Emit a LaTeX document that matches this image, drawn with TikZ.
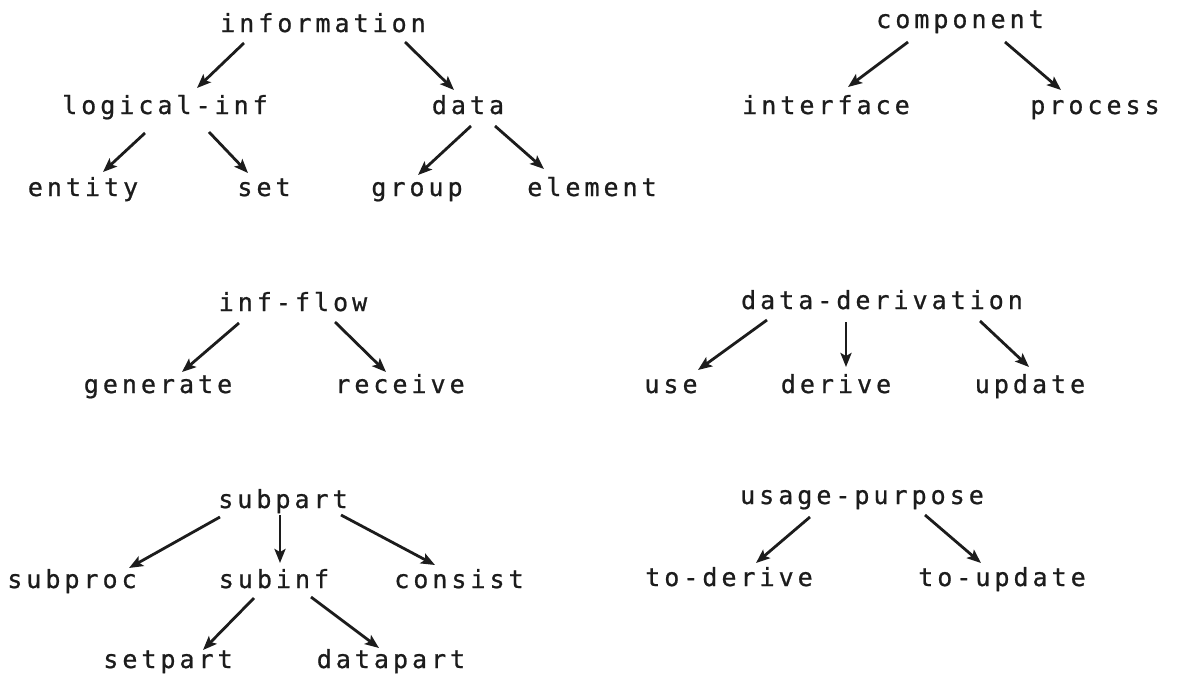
\documentclass[tikz,border=0pt]{standalone}
\usepackage{fontspec}
\usetikzlibrary{arrows.meta}
\newfontfamily\plotfont[LetterSpace=16,FakeBold=0.8]{DejaVu Sans Mono}
\definecolor{ink}{HTML}{1C1C1C}
\begin{document}
\begin{tikzpicture}[x=1pt, y=-1pt,
  term/.style={anchor=base, inner sep=0pt, text=ink,
    font=\plotfont\fontsize{25}{29}\selectfont},
  arr/.style={draw=ink, line width=2.8pt,
    -{Stealth[length=14pt,width=11pt,inset=3pt]}}]
\useasboundingbox[fill=white] (0,0) rectangle (1179,678);

% information hierarchy
\node[term] (info) at (323,32) {information};
\node[term] (lin)  at (165,114) {logical-inf};
\node[term] (data) at (468,114) {data};
\node[term] (ent)  at (83,196) {entity};
\node[term] (set)  at (264,196) {set};
\node[term] (grp)  at (417,196) {group};
\node[term] (elem) at (592,196) {element};

% component hierarchy
\node[term] (comp) at (960,28) {component};
\node[term] (intf) at (826,114) {interface};
\node[term] (proc) at (1095,114) {process};

% information flow
\node[term] (flow) at (293,311) {inf-flow};
\node[term] (gen)  at (158,393) {generate};
\node[term] (recv) at (400,393) {receive};

% data derivation
\node[term] (deriv) at (882,309) {data-derivation};
\node[term] (use)   at (671,393) {use};
\node[term] (der)   at (836,393) {derive};
\node[term] (upd)   at (1030,393) {update};

% subpart hierarchy
\node[term] (sub)   at (283,508) {subpart};
\node[term] (sproc) at (72,588) {subproc};
\node[term] (sinf)  at (274,588) {subinf};
\node[term] (cons)  at (459,588) {consist};
\node[term] (setp)  at (168,668) {setpart};
\node[term] (datp)  at (391,668) {datapart};

% usage purpose
\node[term] (purp) at (862,504) {usage-purpose};
\node[term] (tod)  at (729,586) {to-derive};
\node[term] (tou)  at (1002,586) {to-update};

% connectors
\draw[arr] ([shift={(-79,11)}]info.base) -- ([shift={(32,-26)}]lin.base);
\draw[arr] ([shift={(82,10)}]info.base) -- ([shift={(-14,-24)}]data.base);
\draw[arr] ([shift={(-52,14)}]comp.base) -- ([shift={(22,-27)}]intf.base);
\draw[arr] ([shift={(45,14)}]comp.base) -- ([shift={(-34,-24)}]proc.base);
\draw[arr] ([shift={(-20,19)}]lin.base) -- ([shift={(20,-24)}]ent.base);
\draw[arr] ([shift={(44,18)}]lin.base) -- ([shift={(-16,-23)}]set.base);
\draw[arr] ([shift={(3,12)}]data.base) -- ([shift={(1,-21)}]grp.base);
\draw[arr] ([shift={(27,12)}]data.base) -- ([shift={(-48,-27)}]elem.base);
\draw[arr] ([shift={(-54,12)}]flow.base) -- ([shift={(24,-21)}]gen.base);
\draw[arr] ([shift={(42,11)}]flow.base) -- ([shift={(-14,-21)}]recv.base);
\draw[arr] ([shift={(-115,11)}]deriv.base) -- ([shift={(27,-23)}]use.base);
\draw[arr] ([shift={(-36,13)}]deriv.base) -- ([shift={(10,-26)}]der.base);
\draw[arr] ([shift={(98,12)}]deriv.base) -- ([shift={(-1,-26)}]upd.base);
\draw[arr] ([shift={(-63,9)}]sub.base) -- ([shift={(57,-20)}]sproc.base);
\draw[arr] ([shift={(-3,7)}]sub.base) -- ([shift={(6,-25)}]sinf.base);
\draw[arr] ([shift={(58,7)}]sub.base) -- ([shift={(-24,-23)}]cons.base);
\draw[arr] ([shift={(-52,13)}]purp.base) -- ([shift={(27,-23)}]tod.base);
\draw[arr] ([shift={(63,11)}]purp.base) -- ([shift={(-21,-23)}]tou.base);
\draw[arr] ([shift={(-20,10)}]sinf.base) -- ([shift={(35,-18)}]setp.base);
\draw[arr] ([shift={(37,9)}]sinf.base) -- ([shift={(-12,-20)}]datp.base);
\end{tikzpicture}
\end{document}
